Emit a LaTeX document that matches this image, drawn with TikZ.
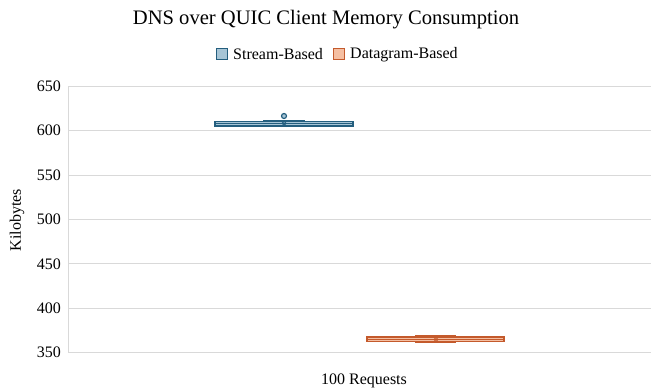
\documentclass[tikz,border=0pt]{standalone}
\usepackage{fontspec}
\setmainfont{Liberation Serif}
\definecolor{sline}{HTML}{245E7E}
\definecolor{sfill}{HTML}{A7C5D6}
\definecolor{dline}{HTML}{C45A2C}
\definecolor{dfill}{HTML}{F5BFA2}
\definecolor{grid}{HTML}{D9D9D9}
\begin{document}
\begin{tikzpicture}[x=1pt,y=-1pt,
  gridline/.style={draw=grid,line width=1pt},
  tick/.style={anchor=east,font=\fontsize{16}{18}\selectfont,inner sep=0pt},
  lab/.style={font=\fontsize{16}{18}\selectfont,inner sep=0pt},
  sbox/.style={draw=sline,fill=sfill,line width=1.2pt},
  dbox/.style={draw=dline,fill=dfill,line width=1.2pt},
  legsq/.style={minimum width=11pt,minimum height=11pt,inner sep=0pt,line width=1pt}]
\useasboundingbox (0,0) rectangle (652,389);
% grid
\foreach \v/\y in {650/86.3,600/130.7,550/175.1,500/219.5,450/263.9,400/308.3}{
  \draw[gridline] (68,\y) -- (651,\y);
  \node[tick] (t\v) at (61,\y) {\v};
}
\node[tick] (t350) at (61,352.7) {350};
\coordinate (ax0) at (68,86.3);
\coordinate (ax1) at (68,352.7);
\coordinate (ax2) at (651,352.7);
\draw[gridline] (ax0) -- (ax1) -- (ax2);
% title and labels
\node[font=\fontsize{20.6}{24}\selectfont,inner sep=0pt] (title) at (326,20) {DNS over QUIC Client Memory Consumption};
\node[legsq,draw=sline,fill=sfill] (ls) at (222,54) {};
\node[lab,anchor=west] (lst) at (233,54.5) {Stream-Based};
\node[legsq,draw=dline,fill=dfill] (ld) at (339,54) {};
\node[lab,anchor=west] (ldt) at (350,54.5) {Datagram-Based};
\node[lab,rotate=90] (ylab) at (17,220) {Kilobytes};
\node[lab] (xlab) at (364,381) {100 Requests};
% stream box
\draw[sline,line width=1.2pt] (263,121) -- (305,121);
\draw[sline,line width=1.2pt] (263,126.5) -- (305,126.5);
\draw[sbox] (215,121.6) rectangle (353,125.9);
\draw[sline,line width=1pt] (215,123.7) -- (353,123.7);
\draw[sline,line width=1pt] (281,120.7) -- (287,126.7) (281,126.7) -- (287,120.7);
\node[circle,draw=sline,fill=sfill,line width=1.2pt,minimum size=5pt,inner sep=0pt] (out) at (284,116) {};
% datagram box
\draw[dline,line width=1.2pt] (415,336) -- (456,336);
\draw[dline,line width=1.2pt] (415,342) -- (456,342);
\draw[dbox] (367,337) rectangle (504,341.5);
\draw[dline,line width=1pt] (367,339.2) -- (504,339.2);
\draw[dline,line width=1pt] (433,336.5) -- (439,342.5) (433,342.5) -- (439,336.5);
\end{tikzpicture}
\end{document}
